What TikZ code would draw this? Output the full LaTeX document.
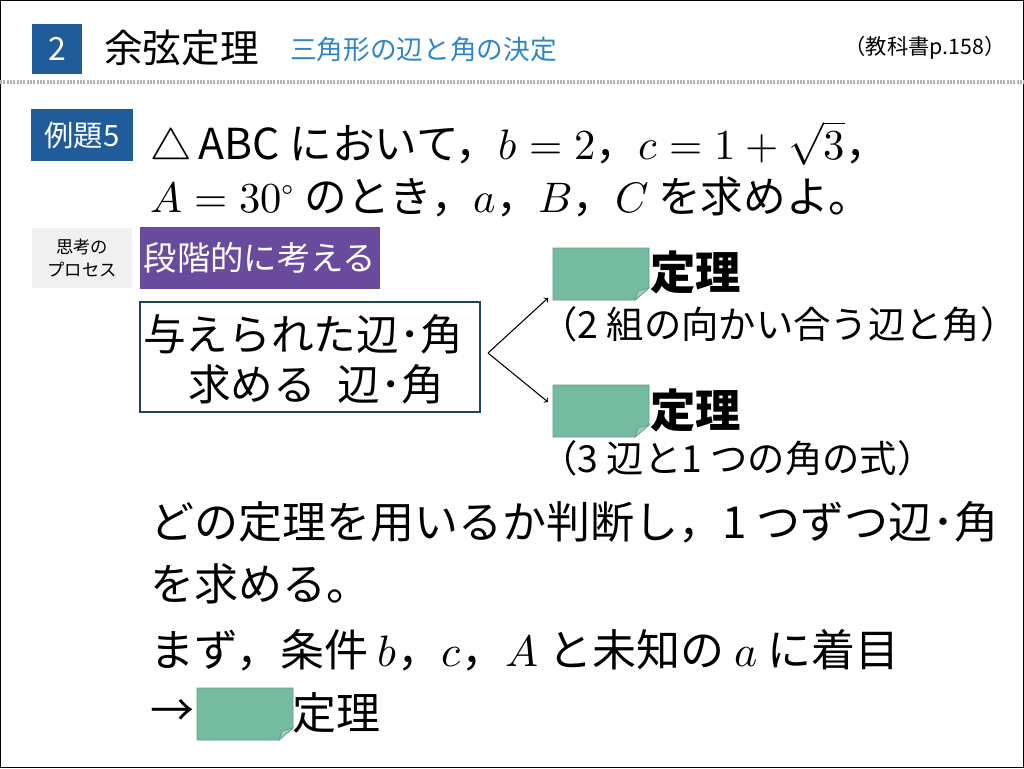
\documentclass[tikz,border=0pt]{standalone}
\usepackage{fontspec}
\usepackage{unicode-math}
\setmainfont{Noto Sans CJK JP}
\setmathfont{Latin Modern Math}
\definecolor{navy}{HTML}{1F5C99}
\definecolor{sub}{HTML}{2E86C8}
\definecolor{purp}{HTML}{6A4A9C}
\definecolor{stick}{HTML}{74BBA0}
\definecolor{stickd}{HTML}{5E9C86}
\definecolor{boxb}{HTML}{1E4650}
\tikzset{
 body/.style={anchor=west,font=\fontsize{32}{34}\selectfont,inner sep=0},
}
\newcommand{\sticky}[3]{%
 \fill[stick,draw=stickd,line width=0.5pt] (#2,#3) -- ++(96,0) -- ++(0,40) -- ++(-14,12) -- ++(-82,0) -- cycle;
 \fill[stick!70!white,draw=stickd,line width=0.5pt] (#2+96,#3+40) -- (#2+82,#3+52) -- (#2+85,#3+43) -- cycle;
 \coordinate (#1) at (#2,#3+26);
}
\begin{document}
\begin{tikzpicture}[x=0.75pt,y=-0.75pt]
\useasboundingbox (0,0) rectangle (1024,768);
\draw[line width=1pt] (0.5,0.5) rectangle (1023.5,767.5);
% header
\node[fill=navy,text=white,minimum width=37.5pt,minimum height=37.5pt,inner sep=0,font=\fontsize{24}{26}\selectfont] (num) at (57,49) {2};
\node[anchor=west,font=\fontsize{29}{31}\selectfont,inner sep=0] (title) at (104,48) {余弦定理};
\node[anchor=west,text=sub,font=\fontsize{20}{22}\selectfont,inner sep=0] (subt) at (290,49) {三角形の辺と角の決定};
\node[anchor=east,font=\fontsize{16}{18}\selectfont,inner sep=0] (ref) at (1006,48) {（教科書p.158）};
\draw[gray!60,line width=3pt,dash pattern=on 1.5pt off 1pt] (0,82) -- (1024,82);
% problem
\node[fill=navy,text=white,minimum width=76pt,minimum height=39pt,inner sep=0,font=\fontsize{22}{24}\selectfont] (rei) at (82,135) {例題5};
\node[body] (l1) at (150,143) {$\triangle$\,ABC において，$b=2$，$c=1+\sqrt{3}$，};
\node[body] (l2) at (150,197) {$A=30^\circ$ のとき，$a$，$B$，$C$ を求めよ。};
% process
\node[fill=gray!12,minimum width=75pt,minimum height=45pt,inner sep=0,align=center,font=\fontsize{13}{17}\selectfont] (shiko) at (82,258) {思考の\\プロセス};
\node[fill=purp,text=white,minimum width=180pt,minimum height=46pt,inner sep=0,font=\fontsize{25}{27}\selectfont] (dan) at (260,258) {段階的に考える};
\node[draw=boxb,line width=1.5pt,minimum width=255pt,minimum height=82pt,inner sep=0] (given) at (310,357) {};
\node[anchor=west,font=\fontsize{32}{34}\selectfont,inner sep=0] (g1) at (143,334) {与えられた辺･角};
\node[anchor=west,font=\fontsize{32}{34}\selectfont,inner sep=0] (g2) at (188,384) {求める\enspace 辺･角};
\coordinate (fork) at (488,353);
\sticky{s1}{553}{248}
\sticky{s2}{553}{385}
\draw[->,line width=0.8pt] (fork) -- (548,298);
\draw[->,line width=0.8pt] (fork) -- (548,402);
\node[anchor=west,font=\bfseries\fontsize{34}{36}\selectfont,inner sep=0] (t1) at (650,272) {定理};
\node[anchor=west,font=\fontsize{28}{30}\selectfont,inner sep=0] (c1) at (540,324) {（2 組の向かい合う辺と角）};
\node[anchor=west,font=\bfseries\fontsize{34}{36}\selectfont,inner sep=0] (t2) at (650,410) {定理};
\node[anchor=west,font=\fontsize{28}{30}\selectfont,inner sep=0] (c2) at (540,458) {（3 辺と1 つの角の式）};
% bottom text
\node[body,font=\fontsize{33}{35}\selectfont] (b1) at (150,522) {どの定理を用いるか判断し，1 つずつ辺･角};
\node[body,font=\fontsize{33}{35}\selectfont] (b2) at (150,584) {を求める。};
\node[body,font=\fontsize{33}{35}\selectfont] (b3) at (150,650) {まず，条件 $b$，$c$，$A$ と未知の $a$ に着目};
\node[body,font=\fontsize{33}{35}\selectfont] (b4) at (150,713) {→};
\sticky{s3}{197}{688}
\node[body,font=\fontsize{33}{35}\selectfont] (b5) at (292,713) {定理};
\end{tikzpicture}
\end{document}
